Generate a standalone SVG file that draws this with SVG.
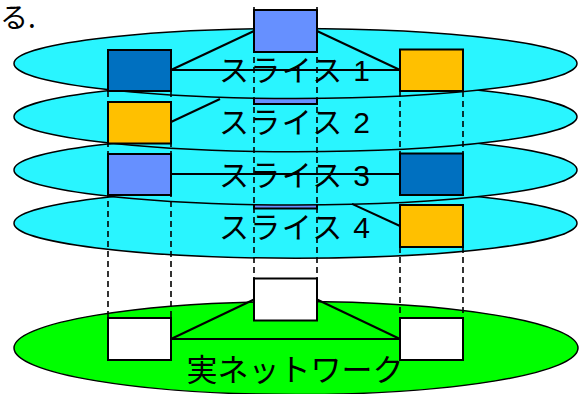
<svg xmlns="http://www.w3.org/2000/svg" width="580" height="394" viewBox="0 0 580 394">
<style>
.slice{fill:#29F5FF;stroke:#000;stroke-width:1.5}
.net{fill:#00FF00;stroke:#000;stroke-width:1.5}
.box{stroke:#000;stroke-width:2}
.lb{fill:#6690FF}.db{fill:#0070C0}.og{fill:#FFC000}.wh{fill:#FFFFFF}
.conn line{stroke:#000;stroke-width:2;fill:none}
.guide line{stroke:#000;stroke-width:1.6;stroke-dasharray:6 4;fill:none}
.lbl{font-family:"Liberation Sans","Noto Sans CJK JP",sans-serif;font-size:30px;fill:#000}
.lbl2{font-family:"Noto Sans CJK JP","Liberation Sans",sans-serif;font-size:31px;fill:#000}
</style>
<rect width="580" height="394" fill="#fff"/>
<text x="0" y="28" style="font-family:'Noto Sans CJK JP',sans-serif;font-size:28px">る.</text>

<ellipse id="slice4" class="slice" cx="295.5" cy="223.2" rx="281.5" ry="35"/>
<g id="s4-center"><rect class="box lb" x="254" y="166.5" width="63" height="42"/></g>
<ellipse id="slice3" class="slice" cx="295.5" cy="170" rx="281.5" ry="35"/>
<ellipse id="slice2" class="slice" cx="295.5" cy="116.8" rx="281.5" ry="35"/>
<g id="s2-center"><rect class="box lb" x="254" y="62" width="63" height="42"/></g>
<ellipse id="slice1" class="slice" cx="295.5" cy="63.5" rx="281.5" ry="35"/>
<ellipse id="real-network" class="net" cx="296" cy="348" rx="282" ry="46.5"/>

<g id="connectors" class="conn">
<line x1="171" y1="70" x2="254" y2="31"/>
<line x1="171" y1="70" x2="400" y2="70"/>
<line x1="317" y1="31" x2="400" y2="70"/>
<line x1="171" y1="122" x2="220" y2="99"/>
<line x1="171" y1="174" x2="400" y2="174"/>
<line x1="352" y1="203.8" x2="400" y2="226"/>
<line x1="171" y1="339" x2="254" y2="299.5"/>
<line x1="171" y1="339" x2="400" y2="339"/>
<line x1="317" y1="299.5" x2="400" y2="339"/>
</g>

<g id="s1-left"><rect class="box db" x="108" y="50" width="63" height="41"/></g>
<g id="s1-center"><rect class="box lb" x="254" y="10" width="63" height="42"/></g>
<g id="s1-right"><rect class="box og" x="400" y="49.5" width="63" height="41.5"/></g>
<g id="s2-left"><rect class="box og" x="108" y="102" width="63" height="41.5"/></g>
<g id="s3-left"><rect class="box lb" x="108" y="154" width="63" height="41"/></g>
<g id="s3-right"><rect class="box db" x="400" y="153.5" width="63" height="41.5"/></g>
<g id="s4-right"><rect class="box og" x="400" y="205" width="63" height="42"/></g>
<g id="net-center"><rect class="box wh" x="254" y="278.5" width="63" height="42"/></g>
<g id="net-left"><rect class="box wh" x="108" y="318" width="63" height="42"/></g>
<g id="net-right"><rect class="box wh" x="400" y="318" width="63" height="42"/></g>

<g id="guides" class="guide">
<line x1="254" y1="7" x2="254" y2="278"/>
<line x1="317" y1="7" x2="317" y2="278"/>
<line x1="108" y1="91" x2="108" y2="318"/>
<line x1="171" y1="91" x2="171" y2="318"/>
<line x1="400" y1="91" x2="400" y2="153"/>
<line x1="463" y1="91" x2="463" y2="153"/>
<line x1="400" y1="247" x2="400" y2="318"/>
<line x1="463" y1="247" x2="463" y2="318"/>
</g>

<g id="labels">
<text class="lbl" x="294.5" y="80.5" text-anchor="middle" textLength="151" lengthAdjust="spacing">スライス 1</text>
<text class="lbl" x="294.5" y="133" text-anchor="middle" textLength="151" lengthAdjust="spacing">スライス 2</text>
<text class="lbl" x="294.5" y="185.5" text-anchor="middle" textLength="151" lengthAdjust="spacing">スライス 3</text>
<text class="lbl" x="294.5" y="238" text-anchor="middle" textLength="151" lengthAdjust="spacing">スライス 4</text>
<text class="lbl2" x="295" y="381" text-anchor="middle">実ネットワーク</text>
</g>
</svg>
